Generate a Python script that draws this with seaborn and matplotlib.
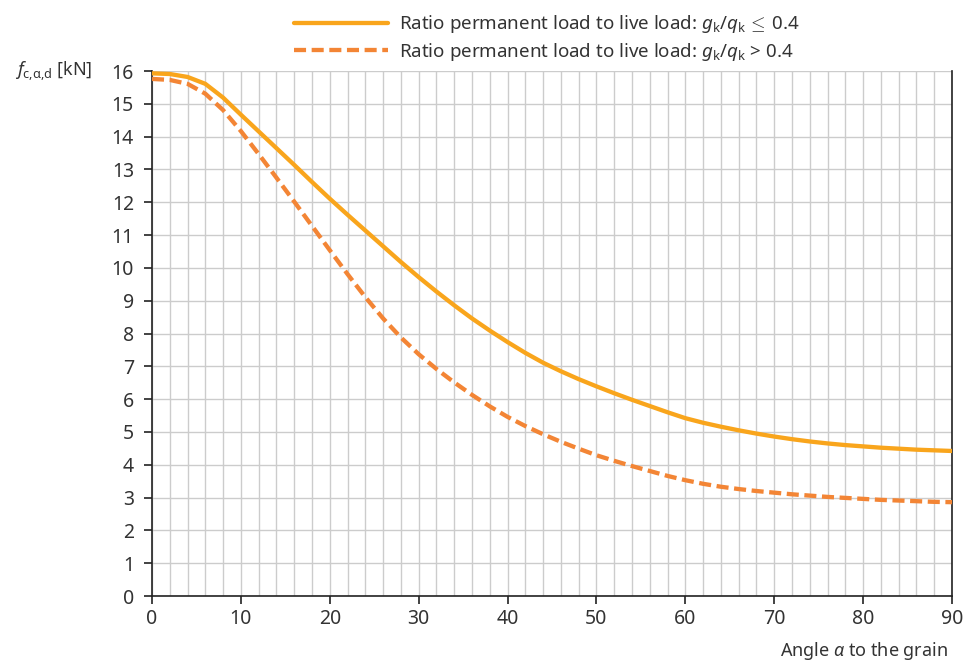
import pandas as pd
import numpy as np
import seaborn as sns
import matplotlib.pyplot as plt
from matplotlib.ticker import MultipleLocator

# angle to the grain [deg]
angles = [0, 2, 4, 6, 8, 10, 12, 14, 16, 18, 20, 22, 24, 26, 28, 30, 32, 34, 36, 38,
          40, 42, 44, 46, 48, 50, 52, 54, 56, 58, 60, 62, 64, 66, 68, 70, 72, 74, 76, 78,
          80, 82, 84, 86, 88, 90]

# g_k/q_k <= 0.4
f_low = [15.93, 15.91, 15.82, 15.61, 15.19, 14.67, 14.16, 13.65, 13.14, 12.62,
         12.11, 11.62, 11.14, 10.66, 10.18, 9.72, 9.28, 8.86, 8.46, 8.09,
         7.74, 7.41, 7.11, 6.85, 6.61, 6.39, 6.18, 5.98, 5.79, 5.60,
         5.42, 5.28, 5.16, 5.05, 4.95, 4.86, 4.78, 4.71, 4.65, 4.60,
         4.56, 4.52, 4.49, 4.46, 4.44, 4.42]

# g_k/q_k > 0.4
f_high = [15.76, 15.73, 15.61, 15.31, 14.81, 14.17, 13.47, 12.75, 12.02, 11.28,
          10.54, 9.81, 9.11, 8.46, 7.88, 7.37, 6.92, 6.51, 6.13, 5.78,
          5.46, 5.18, 4.93, 4.70, 4.49, 4.29, 4.12, 3.96, 3.81, 3.66,
          3.53, 3.42, 3.33, 3.26, 3.20, 3.15, 3.10, 3.06, 3.02, 2.99,
          2.96, 2.93, 2.91, 2.89, 2.87, 2.86]

label_low = r"Ratio permanent load to live load: $g_\mathrm{k}/q_\mathrm{k}\,{\leq}\,$0.4"
label_high = r"Ratio permanent load to live load: $g_\mathrm{k}/q_\mathrm{k}$ > 0.4"

sns.set_style("white")
plt.rcParams['font.family'] = ['Noto Sans', 'DejaVu Sans']
plt.rcParams['mathtext.fontset'] = 'custom'
plt.rcParams['mathtext.rm'] = 'Noto Sans'
plt.rcParams['mathtext.it'] = 'Noto Sans:italic'
plt.rcParams['mathtext.sf'] = 'Noto Sans'
text_color = '#333333'

fig = plt.figure(figsize=(9.68, 6.64), dpi=100)
ax = fig.add_axes([0.157, 0.1024, 0.8265, 0.7906])

df = pd.DataFrame({'angle': angles + angles,
                   'f': f_low + f_high,
                   'ratio': [label_low] * len(angles) + [label_high] * len(angles)})

sns.lineplot(data=df[df['ratio'] == label_low], x='angle', y='f', ax=ax,
             color='#f9a51c', linewidth=3.1, label=label_low, zorder=3)
sns.lineplot(data=df[df['ratio'] == label_high], x='angle', y='f', ax=ax,
             color='#f38535', linewidth=3.1, label=label_high, zorder=3)
ax.lines[1].set_dashes((2.8, 1.3))

ax.set_xlim(0, 90)
ax.set_ylim(0, 16)
ax.xaxis.set_major_locator(MultipleLocator(10))
ax.xaxis.set_minor_locator(MultipleLocator(2))
ax.yaxis.set_major_locator(MultipleLocator(1))
ax.grid(which='both', axis='x', color='#cccccc', linewidth=1)
ax.grid(which='major', axis='y', color='#cccccc', linewidth=1)
ax.set_axisbelow(True)

for side in ['left', 'bottom', 'right']:
    ax.spines[side].set_color('#222222')
    ax.spines[side].set_linewidth(1.2)
ax.spines['top'].set_visible(False)

ax.tick_params(axis='both', which='major', direction='out', length=6, width=1.2,
               color='#222222', labelsize=14, labelcolor=text_color)
ax.tick_params(axis='y', left=True, pad=7)
ax.tick_params(axis='x', bottom=True, pad=3)
ax.tick_params(axis='x', which='minor', length=0)

ax.set_xlabel('')
ax.set_ylabel('')
fig.text(0.015, 0.893, r"$f_{\mathrm{c{,}\alpha{,}d}}$ [kN]", fontsize=13, color=text_color,
         ha='left', va='center')
fig.text(0.979, 0.02, r"Angle $\alpha$ to the grain", fontsize=13, color=text_color,
         ha='right', va='center')

ax.get_legend().remove()
handles, labels = ax.get_legend_handles_labels()
leg = fig.legend(handles, labels, loc='upper center', bbox_to_anchor=(0.565, 1.0),
                 frameon=False, fontsize=13.5, handlelength=5.0, handletextpad=0.6,
                 labelspacing=0.3, borderaxespad=0.3)
for t in leg.get_texts():
    t.set_color(text_color)

fig.savefig('out.png', dpi=100)
